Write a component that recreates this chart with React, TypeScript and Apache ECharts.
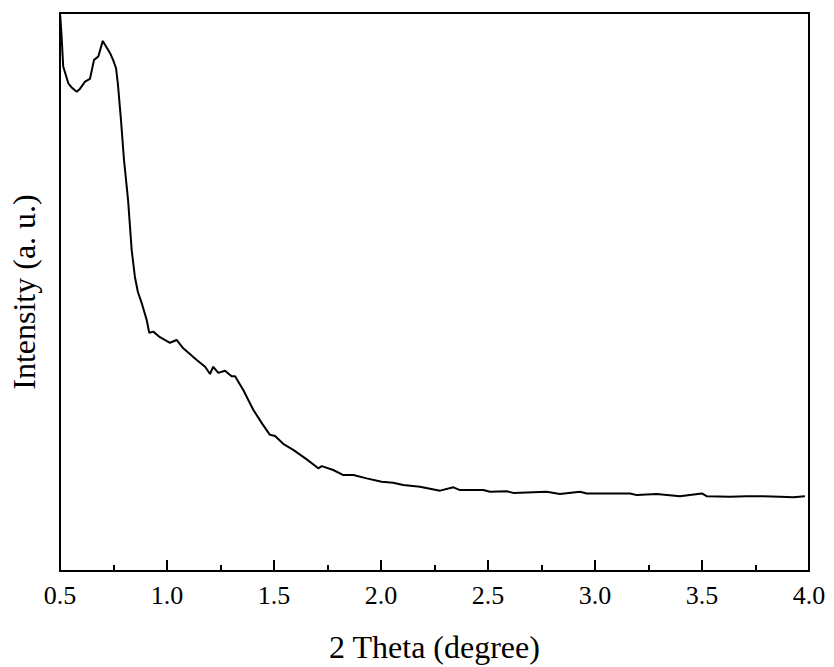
import React, { useEffect, useRef } from "react";
import * as echarts from "echarts";

const thetaValues: number[] = [
  0.501, 0.507, 0.515, 0.539, 0.556, 0.578, 0.593, 0.617, 0.640, 0.659, 0.679, 0.700,
  0.734, 0.748, 0.762, 0.771, 0.785, 0.799, 0.818, 0.835, 0.850, 0.864, 0.882, 0.905,
  0.917, 0.936, 0.967, 1.014, 1.045, 1.076, 1.139, 1.178, 1.201, 1.216, 1.240, 1.271,
  1.302, 1.318, 1.357, 1.403, 1.443, 1.481, 1.505, 1.543, 1.590, 1.653, 1.707, 1.723,
  1.777, 1.824, 1.871, 1.933, 2.003, 2.057, 2.104, 2.182, 2.276, 2.338, 2.369, 2.478,
  2.509, 2.587, 2.618, 2.774, 2.836, 2.930, 2.961, 3.086, 3.164, 3.195, 3.288, 3.397,
  3.499, 3.522, 3.631, 3.709, 3.786, 3.864, 3.927, 3.981,
];

const intensityValues: number[] = [
  99.6, 96.1, 90.4, 87.4, 86.6, 85.9, 86.4, 87.7, 88.2, 91.6, 92.2, 95.0,
  92.8, 91.6, 90.1, 87.1, 80.8, 73.7, 66.5, 57.5, 52.7, 50.0, 48.0, 45.0,
  42.7, 42.9, 41.9, 40.9, 41.4, 39.9, 37.8, 36.6, 35.3, 36.6, 35.5, 35.9,
  34.9, 34.9, 32.4, 28.9, 26.5, 24.4, 24.2, 22.8, 21.7, 20.0, 18.4, 18.8,
  18.1, 17.2, 17.2, 16.6, 16.0, 15.8, 15.4, 15.1, 14.4, 15.0, 14.5, 14.5,
  14.2, 14.3, 14.0, 14.2, 13.8, 14.2, 13.9, 13.9, 13.9, 13.6, 13.8, 13.4,
  13.9, 13.4, 13.3, 13.4, 13.4, 13.3, 13.2, 13.4,
];

const xTickLabels: string[] = ["0.5", "1.0", "1.5", "2.0", "2.5", "3.0", "3.5", "4.0"];
const xAxisTitle = "2 Theta (degree)";
const yAxisTitle = "Intensity (a. u.)";

const X_MIN = 0.5;
const X_MAX = 4.0;
const MAJOR_STEP = 0.5;
const MINOR_STEP = 0.25;

const GRID_LEFT = 60;
const GRID_RIGHT = 25;
const GRID_TOP = 13;
const GRID_BOTTOM = 96;
const MAJOR_TICK_LEN = 11;
const MINOR_TICK_LEN = 6;

export default function App() {
  const ref = useRef<HTMLDivElement>(null);

  useEffect(() => {
    if (!ref.current) return;
    const chart = echarts.init(ref.current, null, { renderer: "svg" });
    const data = thetaValues.map((x, i) => [x, intensityValues[i]]);
    const font = "'Liberation Serif', 'Times New Roman', serif";
    const plainAxisLine = { show: true, onZero: false, lineStyle: { color: "#000", width: 2 } };
    const hiddenLine = { show: true, onZero: false, lineStyle: { color: "rgba(0,0,0,0)", width: 0 } };

    // Tick carrier axis: a top axis of a thin strip grid that ends on the bottom frame,
    // whose inside ticks point down and finish exactly at the frame line.
    const tickCarrier = (gridIndex: number, step: number, len: number) => ({
      type: "value",
      gridIndex,
      position: "top",
      min: X_MIN,
      max: X_MAX,
      interval: step,
      axisLine: hiddenLine,
      axisTick: { show: true, inside: true, length: len, lineStyle: { color: "#000", width: 2 } },
      axisLabel: { show: false },
      splitLine: { show: false },
    });
    const hiddenY = (gridIndex: number) => ({
      type: "value",
      gridIndex,
      show: false,
      min: 0,
      max: 1,
    });

    chart.setOption({
      animation: false,
      backgroundColor: "#ffffff",
      grid: [
        {
          left: GRID_LEFT,
          top: GRID_TOP,
          right: GRID_RIGHT,
          bottom: GRID_BOTTOM,
          containLabel: false,
          outerBoundsMode: "none",
        },
        {
          left: GRID_LEFT,
          right: GRID_RIGHT,
          bottom: GRID_BOTTOM,
          height: MAJOR_TICK_LEN,
          containLabel: false,
          outerBoundsMode: "none",
        },
        {
          left: GRID_LEFT,
          right: GRID_RIGHT,
          bottom: GRID_BOTTOM,
          height: MINOR_TICK_LEN,
          containLabel: false,
          outerBoundsMode: "none",
        },
      ],
      xAxis: [
        {
          type: "value",
          gridIndex: 0,
          position: "bottom",
          min: X_MIN,
          max: X_MAX,
          interval: MAJOR_STEP,
          name: xAxisTitle,
          nameLocation: "middle",
          nameGap: 60,
          nameTextStyle: { fontFamily: font, fontSize: 32, color: "#000" },
          axisLine: plainAxisLine,
          axisTick: { show: false },
          splitLine: { show: false },
          axisLabel: {
            fontFamily: font,
            fontSize: 26,
            color: "#000",
            margin: 11,
            formatter: (v: number) => {
              const idx = Math.round((v - X_MIN) / MAJOR_STEP);
              return xTickLabels[idx] ?? "";
            },
          },
        },
        {
          type: "value",
          gridIndex: 0,
          position: "top",
          min: X_MIN,
          max: X_MAX,
          interval: MAJOR_STEP,
          axisLine: plainAxisLine,
          axisTick: { show: false },
          axisLabel: { show: false },
          splitLine: { show: false },
        },
        tickCarrier(1, MAJOR_STEP, MAJOR_TICK_LEN),
        tickCarrier(2, MINOR_STEP, MINOR_TICK_LEN),
      ],
      yAxis: [
        {
          type: "value",
          gridIndex: 0,
          position: "left",
          min: 0,
          max: 100,
          name: yAxisTitle,
          nameLocation: "middle",
          nameGap: 20,
          nameTextStyle: { fontFamily: font, fontSize: 32, color: "#000" },
          axisLine: plainAxisLine,
          axisTick: { show: false },
          axisLabel: { show: false },
          splitLine: { show: false },
        },
        {
          type: "value",
          gridIndex: 0,
          position: "right",
          min: 0,
          max: 100,
          axisLine: plainAxisLine,
          axisTick: { show: false },
          axisLabel: { show: false },
          splitLine: { show: false },
        },
        hiddenY(1),
        hiddenY(2),
      ],
      series: [
        {
          type: "line",
          data,
          xAxisIndex: 0,
          yAxisIndex: 0,
          showSymbol: false,
          symbol: "none",
          lineStyle: { color: "#000", width: 2 },
          clip: true,
        },
      ],
    });
    return () => chart.dispose();
  }, []);

  return (
    <div
      ref={ref}
      style={{ position: "fixed", left: 0, top: 0, width: 834, height: 667, background: "#fff" }}
    />
  );
}
